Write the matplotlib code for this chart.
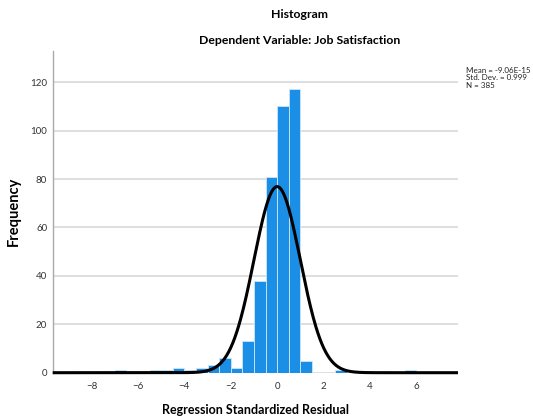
import numpy as np
import matplotlib
matplotlib.use('Agg')
import matplotlib.pyplot as plt

plt.rcParams['font.family'] = ['Lato', 'DejaVu Sans']

# histogram data (bin width 0.5)
bin_left = [-7.0, -6.5, -6.0, -5.5, -5.0, -4.5, -4.0, -3.5, -3.0, -2.5, -2.0, -1.5, -1.0,
            -0.5, 0.0, 0.5, 1.0, 1.5, 2.0, 2.5, 3.0, 3.5, 4.0, 4.5, 5.0, 5.5]
counts = [1, 0, 0, 1, 1, 2, 1, 2, 3, 6, 2, 13, 38,
          81, 110, 117, 5, 0, 0, 1, 0, 0, 0, 0, 0, 1]
bin_width = 0.5
mean = -9.06e-15
std = 0.999
n = 385

W, H = 533, 416
fig = plt.figure(figsize=(W / 100, H / 100), dpi=100)
ax = fig.add_axes([52.7 / W, 1 - 372.7 / H, (458 - 52.7) / W, (372.7 - 50.7) / H])

ax.bar(bin_left, counts, width=bin_width, align='edge', color='#1B8EE6',
       edgecolor='#cfe6f9', linewidth=0.6, zorder=2)

# normal curve
xs = np.linspace(-9.68, 7.8, 600)
ys = n * bin_width * np.exp(-0.5 * ((xs - mean) / std) ** 2) / (std * np.sqrt(2 * np.pi))
ax.plot(xs, ys, color='black', linewidth=2.2, zorder=3, clip_on=False,
        solid_capstyle='butt')

ax.set_xlim(-9.68, 7.8)
ax.set_ylim(0, 133)
ax.set_xticks([-8, -6, -4, -2, 0, 2, 4, 6])
ax.set_yticks([0, 20, 40, 60, 80, 100, 120])
ax.yaxis.grid(True, color='#d9d9d9', linewidth=1.2, zorder=0)
ax.set_axisbelow(True)
ax.tick_params(length=0, labelsize=7, labelcolor='#333333', pad=4)
ax.tick_params(axis='x', pad=7)
for s in ['top', 'right', 'bottom']:
    ax.spines[s].set_visible(False)
ax.spines['left'].set_color('#aaaaaa')
ax.spines['left'].set_linewidth(1.0)

ax.set_xlabel('Regression Standardized Residual', fontsize=9, fontweight='bold', labelpad=9)
ax.set_ylabel('Frequency', fontsize=10.5, fontweight='bold')
ax.yaxis.set_label_coords((21 - 52.7) / (458 - 52.7), 0.5)

fig.text(300 / W, 1 - 15 / H, 'Histogram', ha='center', va='center',
         fontsize=8.8, fontweight='bold')
fig.text(300 / W, 1 - 40 / H, 'Dependent Variable: Job Satisfaction', ha='center',
         va='center', fontsize=8.8, fontweight='bold')

fig.text(466 / W, 1 - 67 / H, 'Mean = -9.06E-15\nStd. Dev. = 0.999\nN = 385',
         ha='left', va='top', fontsize=5.8, linespacing=1.05, color='#222222')

fig.savefig('out.png', dpi=100)
